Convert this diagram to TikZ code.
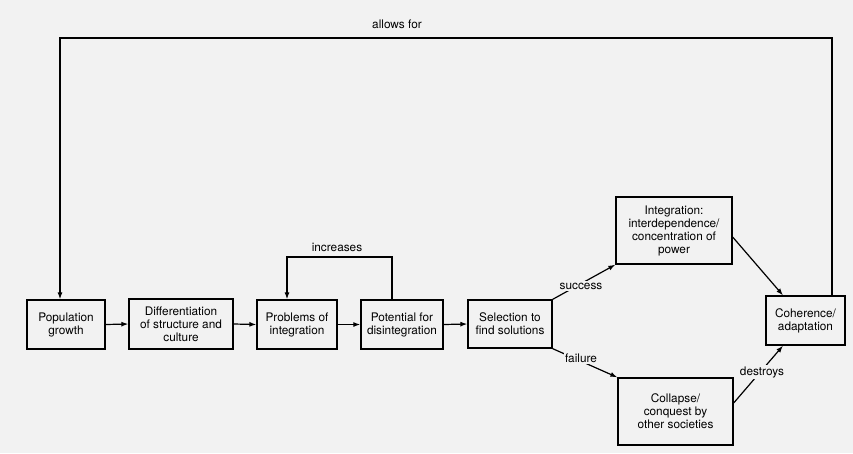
\documentclass[tikz,border=0pt]{standalone}
\usepackage{fontspec}
\setmainfont{TeX Gyre Heros}
\usetikzlibrary{arrows.meta}
\colorlet{bgc}{black!5}
\begin{document}
\begin{tikzpicture}[x=1pt,y=-1pt,
  boxnode/.style={draw, line width=1.3pt, inner sep=0pt, align=center, font=\fontsize{11.8}{13}\selectfont},
  conn/.style={line width=1.2pt, -{Latex[length=7pt,width=5pt]}},
  lbl/.style={font=\fontsize{11.8}{13}\selectfont, inner sep=1.5pt, fill=bgc}]
\fill[bgc] (0,0) rectangle (853,453);
\useasboundingbox (0,0) rectangle (853,453);
% boxes
\node[boxnode, minimum width=78, minimum height=49] (pop) at (66,324.5) {Population\\growth};
\node[boxnode, minimum width=104, minimum height=50] (diff) at (181,324) {Differentiation\\of structure and\\culture};
\node[boxnode, minimum width=80, minimum height=49] (prob) at (297,324.5) {Problems of\\integration};
\node[boxnode, minimum width=82, minimum height=49] (pot) at (402,324.5) {Potential for\\disintegration};
\node[boxnode, minimum width=84, minimum height=48] (sel) at (510,324) {Selection to\\find solutions};
\node[boxnode, minimum width=116, minimum height=67] (integ) at (674,230.5) {Integration:\\interdependence/\\concentration of\\power};
\node[boxnode, minimum width=115, minimum height=67] (coll) at (675.5,411.5) {Collapse/\\conquest by\\other societies};
\node[boxnode, minimum width=79, minimum height=49] (coh) at (805.5,320.5) {Coherence/\\adaptation};
% coordinates
\coordinate (topR) at (832,38);
\coordinate (topL) at (60,38);
\coordinate (incR) at (392,257);
\coordinate (incL) at (287,257);
% main chain
\draw[conn] (pop.east) -- (diff.west);
\draw[conn] (diff.east) -- (prob.west);
\draw[conn] (prob.east) -- (pot.west);
\draw[conn] (pot.east) -- (sel.west);
% increases loop
\draw[conn] (pot.north -| incR) -- (incR) -- (incL) -- (prob.north -| incL);
\node[lbl] (inclbl) at (337,247) {increases};
% success / failure
\draw[conn] (sel.north east) -- (integ.south west);
\node[lbl] (succ) at (581,286) {success};
\draw[conn] (sel.south east) -- (coll.north west);
\node[lbl] (fail) at (581,358) {failure};
% to coherence
\draw[conn] ([yshift=-6.5]integ.east) -- ([xshift=-22.5]coh.north);
\draw[conn] ([yshift=8.5]coll.east) -- ([xshift=-22.5]coh.south);
\node[lbl] (destr) at (762,372) {destroys};
% allows for
\draw[conn] (coh.north -| topR) -- (topR) -- (topL) -- (pop.north -| topL);
\node[lbl] (allow) at (397,24) {allows for};
\end{tikzpicture}
\end{document}
